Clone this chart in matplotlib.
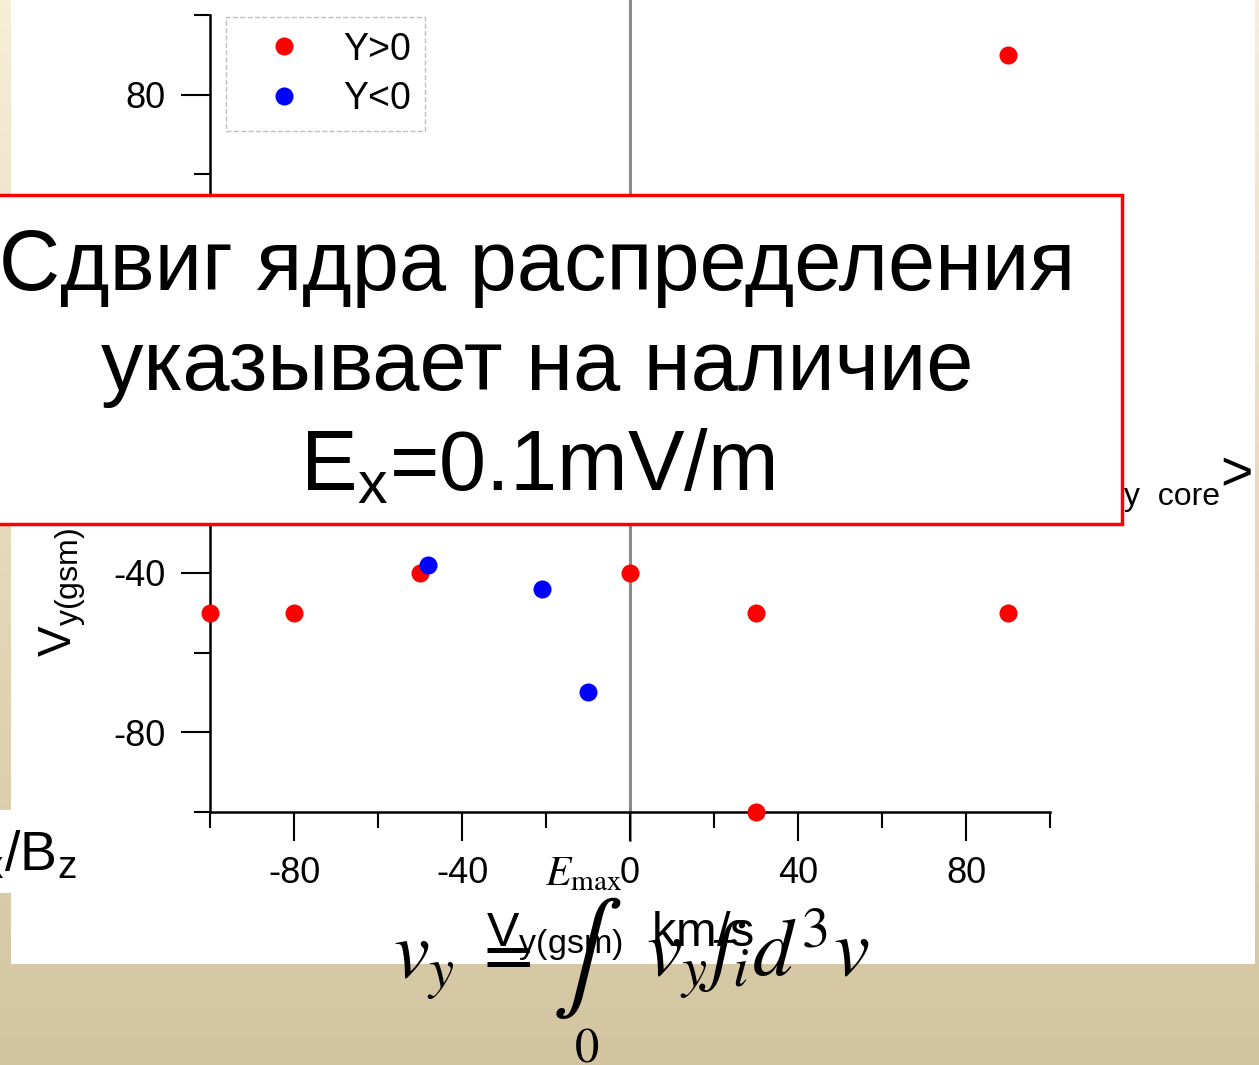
import numpy as np
import matplotlib
matplotlib.use("Agg")
import matplotlib.pyplot as plt
from matplotlib.patches import Rectangle

# scatter points, km/s
x_pos = [-100, -80, -50, 0, 30, 90, 30, 90]     # Y>0 (red)
y_pos = [-50, -50, -40, -40, -50, -50, -100, 90]
x_neg = [-48, -21, -10]                          # Y<0 (blue)
y_neg = [-38, -44, -70]

major_ticks = [-80, -40, 0, 40, 80]
minor_ticks = [-100, -60, -20, 20, 60, 100]
legend_labels = ["Y>0", "Y<0"]

box_lines = ["Сдвиг ядра распределения",
             "указывает на наличие",
             r"E$_{\mathregular{x}}$=0.1mV/m"]

plt.rcParams["font.family"] = ["Liberation Sans", "DejaVu Sans"]
plt.rcParams["mathtext.fontset"] = "custom"
plt.rcParams["mathtext.rm"] = "Liberation Sans"
plt.rcParams["mathtext.it"] = "Liberation Sans:italic"
plt.rcParams["axes.unicode_minus"] = False

W, H = 1259, 1065


def fx(px):
    return px / W


def fy(py):
    return 1 - py / H


fig = plt.figure(figsize=(W / 100, H / 100), dpi=100)

# slide background gradient
bg = fig.add_axes([0, 0, 1, 1], zorder=-5)
top = np.array([247, 238, 216]) / 255
bot = np.array([211, 197, 161]) / 255
t = np.linspace(0, 1, 256)[:, None]
grad = top[None, :] * (1 - t) + bot[None, :] * t
bg.imshow(grad[:, None, :], aspect="auto", extent=[0, 1, 0, 1])
bg.set_axis_off()

# white picture panel
fig.patches.append(Rectangle((fx(11), fy(964)), fx(1255) - fx(11), fy(0) - fy(964),
                             transform=fig.transFigure, facecolor="white",
                             edgecolor="none", zorder=-4))

ax = fig.add_axes([fx(210), fy(812), fx(1050) - fx(210), fy(15) - fy(812)], zorder=0)
ax.set_facecolor("none")
ax.set_xlim(-100, 100)
ax.set_ylim(-100, 100)

ax.axvline(0, ymin=-0.035, ymax=1.02, color="#8a8a8a", lw=2.2, clip_on=False, zorder=1)

ax.plot(x_pos, y_pos, "o", color="#ff0000", ms=13, mec="none",
        clip_on=False, zorder=4, label=legend_labels[0])
ax.plot(x_neg, y_neg, "o", color="#0000ff", ms=13, mec="none",
        clip_on=False, zorder=4, label=legend_labels[1])

for s in ["top", "right"]:
    ax.spines[s].set_visible(False)
for s in ["left", "bottom"]:
    ax.spines[s].set_linewidth(1.8)

ax.set_xticks(major_ticks)
ax.set_yticks(major_ticks)
ax.set_xticks(minor_ticks, minor=True)
ax.set_yticks(minor_ticks, minor=True)
ax.tick_params(which="major", length=21, width=1.5, labelsize=26, pad=11)
ax.tick_params(which="minor", length=11.5, width=1.5)

ax.set_xlabel(r"V$_{\mathregular{y(gsm)}}$  km/s", fontsize=35)
ax.xaxis.set_label_coords(0.488, -0.122)
ax.set_ylabel(r"V$_{\mathregular{y(gsm)}}$", fontsize=33)
ax.yaxis.set_label_coords(-0.145, 0.276)

leg = ax.legend(loc="upper left", bbox_to_anchor=(0.019, 0.9975), fontsize=27,
                frameon=True, fancybox=False, borderpad=0.39, handlelength=2.32,
                handletextpad=0.41, labelspacing=0.35, borderaxespad=0, numpoints=1)
leg.get_frame().set_edgecolor("#b0b0b0")
leg.get_frame().set_linestyle("--")
leg.get_frame().set_linewidth(1.0)

# fragment of a neighbouring panel label on the right
fig.text(fx(1220), fy(505), "y  core", fontsize=23, ha="right", va="baseline", zorder=3)
fig.text(fx(1253), fy(490), ">", fontsize=40, ha="right", va="baseline", zorder=3)

# white label box at lower left
fig.patches.append(Rectangle((fx(0), fy(893)), fx(80), fy(810) - fy(893),
                             transform=fig.transFigure, facecolor="white",
                             edgecolor="none", zorder=2))
fig.text(fx(77), fy(870), r"V$_{\mathregular{x}}$/B$_{\mathregular{z}}$", fontsize=40,
         ha="right", va="baseline", zorder=3)

# red framed note
fig.patches.append(Rectangle((fx(-48), fy(524)), fx(1122) - fx(-48), fy(195) - fy(524),
                             transform=fig.transFigure, facecolor="white",
                             edgecolor="#ff0000", lw=2.5, zorder=5))
for line, base in zip(box_lines, [290, 390, 490]):
    fig.text(fx(537), fy(base), line, fontsize=61, ha="center", va="baseline", zorder=6)

# formula
fkw = dict(math_fontfamily="stix", va="baseline", zorder=7, color="black")
fig.text(fx(393), fy(977), r"$v_y$", fontsize=58, ha="left", **fkw)
fig.text(fx(502), fy(974), r"$=$", fontsize=52, ha="center", **fkw)
fig.text(fx(587), fy(985), r"$\int$", fontsize=76, ha="center", **fkw)
fig.text(fx(584), fy(885), r"$E_{\max}$", fontsize=30, ha="center", **fkw)
fig.text(fx(587), fy(1062), r"$0$", fontsize=35, ha="center", **fkw)
fig.text(fx(646), fy(977), r"$v_y f_i d^3 v$", fontsize=58, ha="left", **fkw)

fig.savefig("out.png", dpi=100)
